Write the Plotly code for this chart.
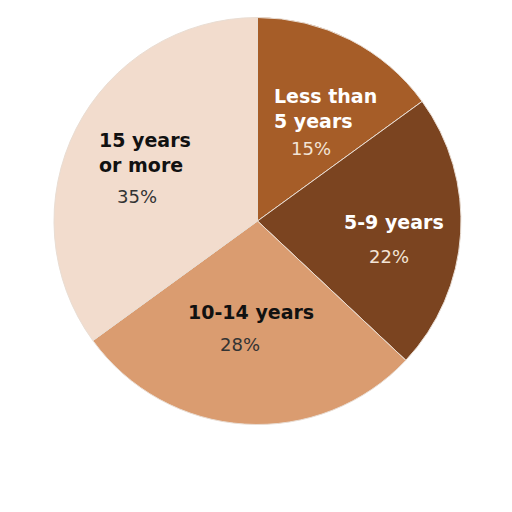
import math
import plotly.graph_objects as go

categories = ["Less than<br>5 years", "5-9 years", "10-14 years", "15 years<br>or more"]
shares = [15, 22, 28, 35]

slice_colors = ["#A65D28", "#7B4420", "#DA9C70", "#F2DCCD"]
name_colors = ["#FFFFFF", "#FFFFFF", "#111111", "#111111"]
pct_colors = ["#F3E4D6", "#F3E4D6", "#333333", "#333333"]

# label placement: radial fraction along each slice's mid-angle, then pixel nudges
label_radius = [0.59, 0.66, 0.53, 0.60]
name_shift = [(13, 6), (2, 7), (0, 17), (-4, 13)]
pct_shift = [(-1, -34), (-3, -27), (-11, -16), (-12, -31)]

W, H = 512, 512
margin = dict(l=46, r=59, t=9, b=95)
plot_w = W - margin["l"] - margin["r"]
plot_h = H - margin["t"] - margin["b"]
side = min(plot_w, plot_h)

fig = go.Figure(go.Pie(
    labels=[c.replace("<br>", " ") for c in categories],
    values=shares,
    textinfo="none",
    sort=False,
    direction="clockwise",
    rotation=0,
    marker=dict(colors=slice_colors, line=dict(color="#E9DDD3", width=1)),
    hoverinfo="label+percent",
))

total = sum(shares)
cum = 0
for i, v in enumerate(shares):
    mid = 2 * math.pi * (cum + v / 2) / total
    cum += v
    f = label_radius[i]
    ax = 0.5 + f * 0.5 * math.sin(mid) * side / plot_w
    ay = 0.5 + f * 0.5 * math.cos(mid) * side / plot_h
    pct = f"{round(100 * v / total)}%"
    fig.add_annotation(
        x=ax, y=ay, xref="paper", yref="paper",
        text=f"<b>{categories[i]}</b>", showarrow=False, align="left",
        xanchor="center", yanchor="middle",
        xshift=name_shift[i][0], yshift=name_shift[i][1],
        font=dict(family="DejaVu Sans", size=19, color=name_colors[i]),
    )
    fig.add_annotation(
        x=ax, y=ay, xref="paper", yref="paper",
        text=pct, showarrow=False,
        xanchor="center", yanchor="middle",
        xshift=pct_shift[i][0], yshift=pct_shift[i][1],
        font=dict(family="DejaVu Sans", size=18, color=pct_colors[i]),
    )

fig.update_layout(
    width=W, height=H,
    margin=margin,
    showlegend=False,
    paper_bgcolor="white",
    plot_bgcolor="white",
)

fig.write_html("out.html")
